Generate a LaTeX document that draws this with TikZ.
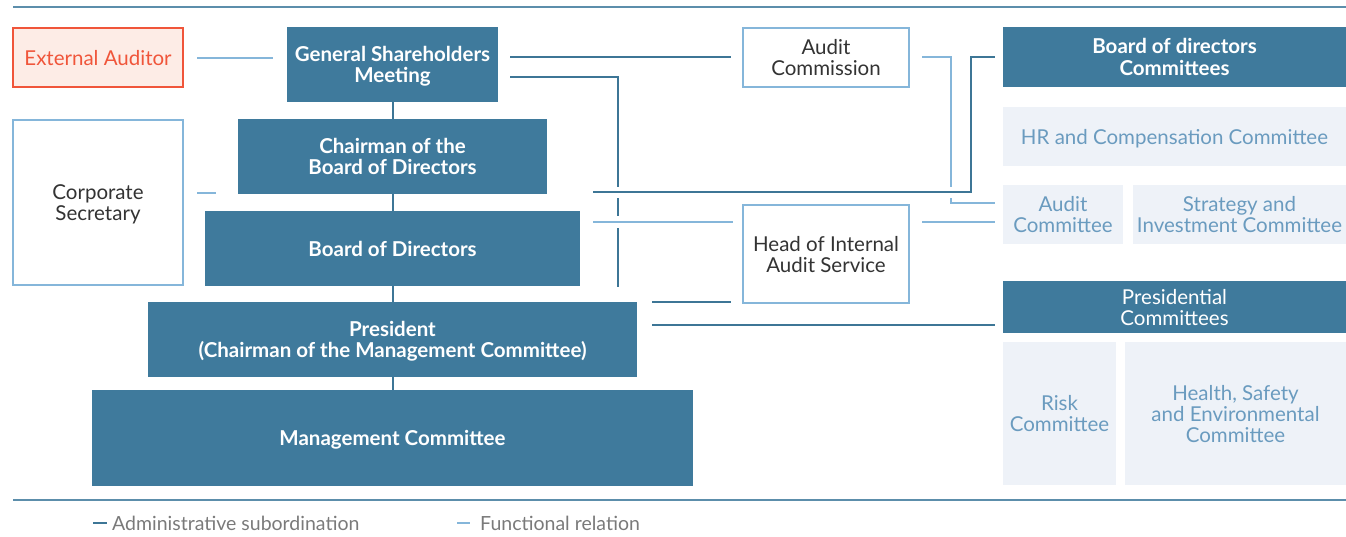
\documentclass[tikz,border=0pt]{standalone}
\usepackage{fontspec}
\setmainfont{Lato}
\usetikzlibrary{calc}
\definecolor{dkblue}{HTML}{3F7A9C}
\definecolor{ltline}{HTML}{85B6DA}
\definecolor{dkline}{HTML}{3D7696}
\definecolor{ltfill}{HTML}{EEF2F8}
\definecolor{lttext}{HTML}{6A9BBF}
\definecolor{redline}{HTML}{F0553A}
\definecolor{redfill}{HTML}{FDECE6}
\definecolor{gtext}{HTML}{333333}
\definecolor{legtext}{HTML}{7A7A7A}
\newcommand{\regf}{\fontsize{20.5}{21}\selectfont}
\newcommand{\boldf}{\fontsize{20.5}{21.5}\selectfont\bfseries}
\tikzset{
  box/.style={inner sep=0pt, outer sep=0pt, align=center, anchor=north west, text depth=0pt},
  dk/.style={box, fill=dkblue, text=white, font=\boldf},
  dkn/.style={box, fill=dkblue, text=white, font=\regf},
  wb/.style={box, draw=ltline, line width=1.3pt, fill=white, text=gtext, font=\regf},
  lb/.style={box, fill=ltfill, text=lttext, font=\regf},
  adm/.style={draw=dkline, line width=2pt},
  fun/.style={draw=ltline, line width=2pt},
  legtxt/.style={inner sep=0pt, anchor=west, text=legtext, font=\fontsize{19.5}{21}\selectfont}
}
\begin{document}
\begin{tikzpicture}[x=1pt,y=-1pt]
\useasboundingbox (0,0) rectangle (1346,536);
% frame lines
\coordinate (tl) at (13,7);
\coordinate (tr) at (1346,7);
\coordinate (bl) at (13,500);
\coordinate (br) at (1346,500);
\draw[draw=dkblue!85, line width=1.5pt] (tl) -- (tr);
\draw[draw=dkblue!85, line width=1.5pt] (bl) -- (br);

% left column
\node[box, draw=redline, fill=redfill, line width=1.3pt, text=redline, font=\regf, minimum width=170pt, minimum height=59pt] (ext) at (13,28) {External Auditor};
\node[wb, minimum width=170pt, minimum height=165pt] (sec) at (13,120) {Corporate\\Secretary};

% central column
\node[dk, minimum width=211pt, minimum height=75pt] (gsm) at (287,27) {General Shareholders\\Meeting};
\node[dk, minimum width=309pt, minimum height=75pt] (chair) at (238,119) {Chairman of the\\Board of Directors};
\node[dk, minimum width=375pt, minimum height=75pt] (bod) at (205,211) {Board of Directors};
\node[dk, minimum width=489pt, minimum height=75pt] (pres) at (148,302) {President\\(Chairman of the Management Committee)};
\node[dk, minimum width=601pt, minimum height=96pt] (mc) at (92,390) {Management Committee};

% middle column
\node[wb, minimum width=166pt, minimum height=59pt] (ac) at (743,28) {Audit\\Commission};
\node[wb, minimum width=166pt, minimum height=98pt] (hia) at (743,205) {Head of Internal\\Audit Service};

% right column
\node[dk, minimum width=343pt, minimum height=60pt] (bdc) at (1003,27) {Board of directors\\Committees};
\node[lb, minimum width=343pt, minimum height=59pt] (hr) at (1003,107) {HR and Compensation Committee};
\node[lb, minimum width=120pt, minimum height=59pt] (audc) at (1003,185) {Audit\\Committee};
\node[lb, minimum width=213pt, minimum height=59pt] (sic) at (1133,185) {Strategy and\\Investment Committee};
\node[dkn, minimum width=343pt, minimum height=52pt] (pc) at (1003,281) {Presidential\\Committees};
\node[lb, minimum width=113pt, minimum height=143pt] (risk) at (1003,342) {Risk\\Committee};
\node[lb, minimum width=221pt, minimum height=143pt] (hse) at (1125,342) {Health, Safety\\and Environmental\\Committee};

% central vertical administrative chain
\draw[adm] (gsm.south) -- (chair.north);
\draw[adm] (chair.south) -- (bod.north);
\draw[adm] (bod.south) -- (pres.north);
\draw[adm] (pres.south) -- (mc.north);

% functional short lines
\draw[fun] ([xshift=14pt]ext.east) -- ([xshift=-14pt]gsm.west |- ext.east);
\draw[fun] ([xshift=14pt,yshift=9.5pt]sec.east) -- ([xshift=33pt,yshift=9.5pt]sec.east);

% GSM -> Audit Commission
\draw[adm] ([xshift=12pt,yshift=-30pt]gsm.north east) -- ([xshift=-12pt]ac.west |- 0,57);

% GSM -> down to internal audit (vertical at x=618)
\coordinate (v1) at (618,77);
\draw[adm] ([xshift=12pt,yshift=-50pt]gsm.north east) -- (v1) -- (618,187);
\draw[adm] (618,198) -- (618,216);
\draw[adm] (618,228) -- (618,287);
\draw[adm] ([xshift=15pt]pres.north east) -- ([xshift=-12pt,yshift=1pt]hia.south west);

% Chairman -> Board of directors Committees
\coordinate (c1) at (971,192);
\coordinate (c2) at (971,57);
\draw[adm] ([xshift=46pt,yshift=2pt]chair.south east) -- (c1) -- (c2) -- ([xshift=-8pt,yshift=-30pt]bdc.north west);

% Audit Commission -> Audit Committee (functional)
\coordinate (f1) at (951,57);
\draw[fun] ([xshift=13pt]ac.east |- f1) -- (f1) -- (951,187);
\draw[fun] (951,198) -- (951,203) -- ([xshift=-8pt]audc.west |- 0,203);

% Board of Directors <-> Head of Internal Audit (functional)
\draw[fun] ([xshift=13pt,yshift=-11pt]bod.north east) -- ([xshift=-10pt,yshift=-17pt]hia.north west);
\draw[fun] ([xshift=13pt,yshift=-17pt]hia.north east) -- ([xshift=-8pt]audc.west |- 0,222);

% President -> Presidential Committees
\draw[adm] ([xshift=15pt,yshift=-23pt]pres.north east) -- ([xshift=-8pt]pc.west |- 0,325);

% legend
\coordinate (la1) at (93,523);
\coordinate (la2) at (107,523);
\coordinate (lf1) at (457,523);
\coordinate (lf2) at (470,523);
\draw[adm] (la1) -- (la2);
\node[legtxt] (legA) at (112,523) {Administrative subordination};
\draw[fun] (lf1) -- (lf2);
\node[legtxt] (legF) at (480,523) {Functional relation};
\end{tikzpicture}
\end{document}
